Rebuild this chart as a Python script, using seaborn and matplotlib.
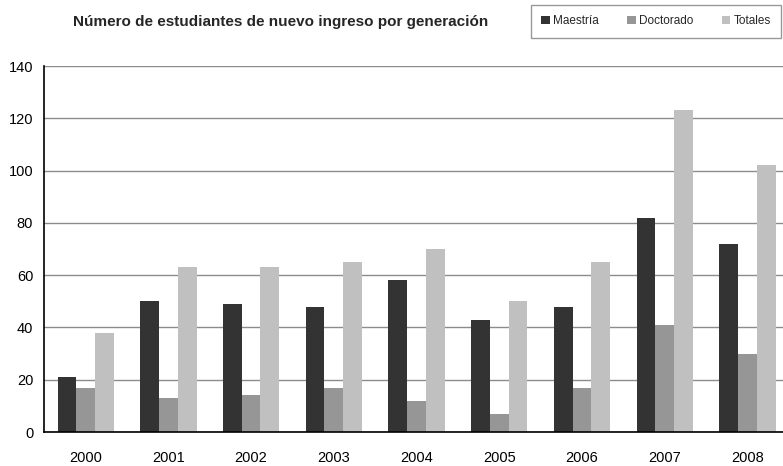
import matplotlib
matplotlib.use("Agg")
import matplotlib.pyplot as plt
import seaborn as sns
import pandas as pd
import numpy as np
from matplotlib.ticker import FixedLocator
from matplotlib.patches import Patch

years = ["2000", "2001", "2002", "2003", "2004", "2005", "2006", "2007", "2008"]
maestria = [21, 50, 49, 48, 58, 43, 48, 82, 72]
doctorado = [17, 13, 14, 17, 12, 7, 17, 41, 30]
totales = [38, 63, 63, 65, 70, 50, 65, 123, 102]
series_names = ["Maestría", "Doctorado", "Totales"]
colors = ["#333333", "#969696", "#c0c0c0"]
title = "Número de estudiantes de nuevo ingreso por generación"

df = pd.DataFrame({
    "Año": years * 3,
    "Serie": [series_names[0]] * 9 + [series_names[1]] * 9 + [series_names[2]] * 9,
    "Valor": maestria + doctorado + totales,
})

sns.set_theme(style="white")
plt.rcParams["font.family"] = ["Liberation Sans", "DejaVu Sans"]

fig = plt.figure(figsize=(7.83, 4.66), dpi=100)
ax = fig.add_axes([44.3 / 783, 1 - 432 / 466, 1 - 44.3 / 783, (432 - 66) / 466])

sns.barplot(data=df, x="Año", y="Valor", hue="Serie", order=years,
            hue_order=series_names, palette=colors, width=0.68, gap=0,
            saturation=1, ax=ax, legend=False, linewidth=0)

ax.set_xlim(-0.5, 8.43)
ax.set_ylim(0, 140)
ax.set_yticks(np.arange(0, 141, 20))
ax.yaxis.grid(True, color="#8c8c8c", linewidth=1)
ax.set_axisbelow(True)
ax.set_xlabel("")
ax.set_ylabel("")
for s in ["top", "right"]:
    ax.spines[s].set_visible(False)
for s in ["left", "bottom"]:
    ax.spines[s].set_color("black")
    ax.spines[s].set_linewidth(1.2)

ax.xaxis.set_minor_locator(FixedLocator(np.arange(-0.5, 8.5, 1)))
ax.tick_params(axis="x", which="major", length=0, labelsize=10.5, pad=14, colors="black")
ax.tick_params(axis="x", which="minor", length=5, width=1.2, color="black", direction="out")
ax.tick_params(axis="y", which="major", length=5, width=1.2, color="black", direction="out",
               labelsize=10.5, pad=3)
for lbl in ax.get_yticklabels() + ax.get_xticklabels():
    lbl.set_color("black")

fig.text(0.358, 0.952, title, fontsize=11, fontweight="bold", ha="center", va="center")

handles = [Patch(facecolor=c, edgecolor="none") for c in colors]
leg = fig.legend(handles, series_names, loc="upper right", bbox_to_anchor=(0.998, 0.99),
                 ncol=3, frameon=True, fontsize=8.5, handlelength=0.7, handleheight=0.7,
                 handletextpad=0.3, columnspacing=2.4, borderpad=0.9, fancybox=False,
                 borderaxespad=0)
leg.get_frame().set_edgecolor("#808080")
leg.get_frame().set_linewidth(1)

fig.savefig("out.png", dpi=100)
